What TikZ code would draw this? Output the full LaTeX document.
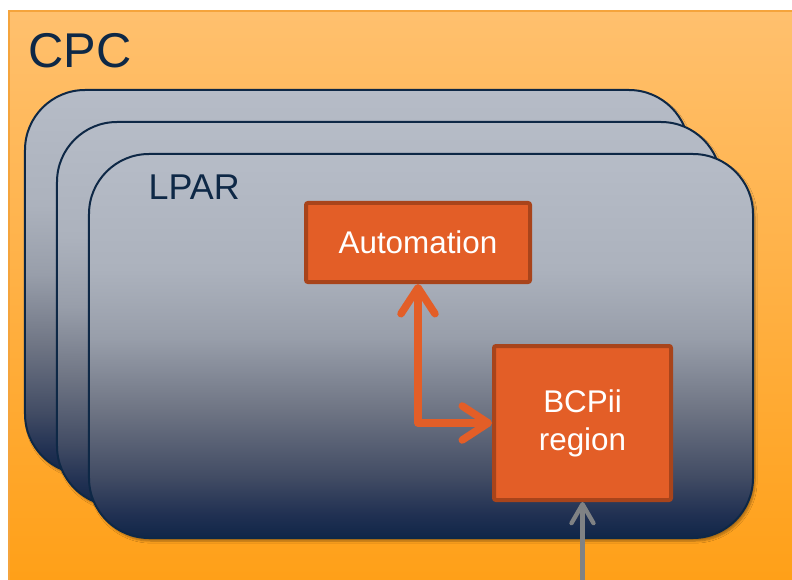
\documentclass[tikz,border=0pt]{standalone}
\usepackage{fontspec}
\setmainfont{Liberation Sans}
\usetikzlibrary{arrows.meta,shadows.blur}

\definecolor{cpctop}{RGB}{255,192,110}
\definecolor{cpcbottom}{RGB}{255,160,24}
\definecolor{cpcline}{RGB}{245,164,60}
\definecolor{navy}{RGB}{14,40,70}
\definecolor{boxfill}{RGB}{227,94,39}
\definecolor{boxline}{RGB}{168,68,27}
\definecolor{feedgray}{RGB}{128,130,132}
\definecolor{lpA}{RGB}{16,38,72}
\definecolor{lpB}{RGB}{32,48,82}
\definecolor{lpC}{RGB}{66,76,100}
\definecolor{lpD}{RGB}{112,118,133}
\definecolor{lpE}{RGB}{152,158,170}
\definecolor{lpF}{RGB}{172,178,189}
\definecolor{lpG}{RGB}{182,188,199}

\pgfdeclareverticalshading{lparshade}{100bp}{color(0bp)=(lpA); color(25bp)=(lpA);
  color(28bp)=(lpB); color(33bp)=(lpC); color(42bp)=(lpD); color(51bp)=(lpE);
  color(60bp)=(lpF); color(75bp)=(lpG); color(100bp)=(lpG)}

\begin{document}
\begin{tikzpicture}[x=1bp,y=-1bp,
  lpar/.style={draw=navy, line width=2bp, rounded corners=60bp, shading=lparshade,
    minimum width=664bp, minimum height=384bp, inner sep=0pt,
    blur shadow={shadow xshift=2bp, shadow yshift=-3bp, shadow opacity=35, shadow blur steps=6}},
  task/.style={draw=boxline, fill=boxfill, line width=4bp, rounded corners=2bp,
    text=white, align=center, font=\fontsize{31.5}{38}\selectfont, inner sep=0pt},
  link/.style={draw=boxfill, line width=7.5bp, line cap=round, line join=round,
    {Straight Barb[length=26bp, width=34bp, line cap=round, line join=round]}-{Straight Barb[length=26bp, width=34bp, line cap=round, line join=round]}},
  feed/.style={draw=feedgray, line width=4.3bp,
    -{Straight Barb[length=19bp, width=22bp, line cap=round, line join=round]}}]

\useasboundingbox (0,0) rectangle (792,580);

% CPC frame
\fill[top color=cpctop, bottom color=cpcbottom] (9,11) rectangle (792,580);
\draw[cpcline, line width=1.5bp] (9,580) -- (9,11) -- (792,11);
\node[anchor=base west, text=navy, font=\fontsize{49}{56}\selectfont, inner sep=0pt] (cpc) at (28,68) {CPC};

% stacked LPARs
\node[lpar] (lparback) at (357,282) {};
\node[lpar] (lparmid) at (389,314) {};
\node[lpar] (lpar) at (421,346) {};
\node[anchor=base west, text=navy, font=\fontsize{36}{42}\selectfont, inner sep=0pt] (lparlabel) at (148.5,200) {LPAR};

% boxes
\node[task, minimum width=224bp, minimum height=79bp] (auto) at (418,242.5) {Automation};
\node[task, minimum width=177bp, minimum height=154bp] (bcpii) at (582.5,423) {BCPii\\region};

% connectors
\draw[link] (auto.south) |- (bcpii.west);
\coordinate (hmc) at (582.5,585);
\draw[feed] (hmc) -- (bcpii.south);

\end{tikzpicture}
\end{document}
